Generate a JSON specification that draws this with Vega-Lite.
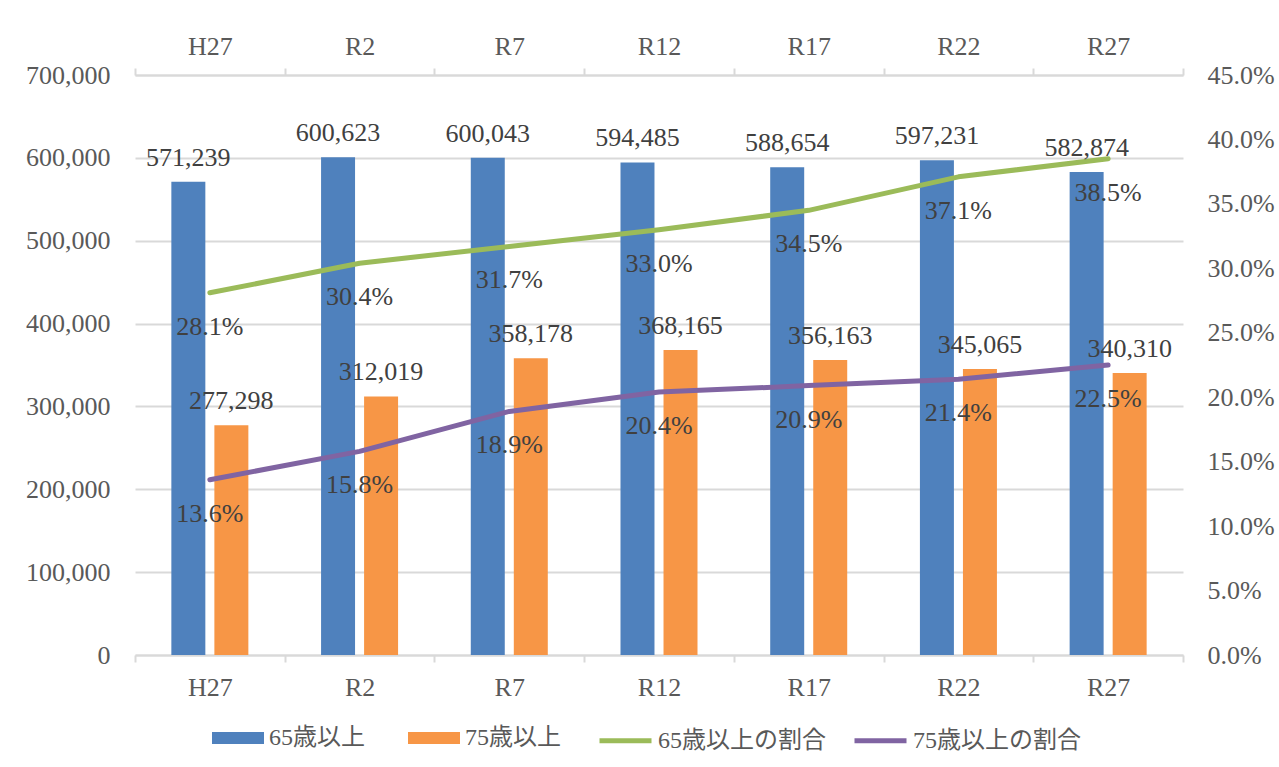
{
  "$schema": "https://vega.github.io/schema/vega-lite/v6.json",
  "width": 1048,
  "height": 580,
  "autosize": {"type": "none"},
  "padding": {"left": 135, "top": 75, "right": 96, "bottom": 112},
  "background": "white",
  "config": {
    "view": {"stroke": null},
    "font": "Liberation Serif, Noto Sans CJK JP",
    "axis": {"labelFont": "Liberation Serif, Noto Sans CJK JP", "labelFontSize": 26, "labelColor": "#595959"},
    "legend": {"labelFont": "Liberation Serif, Noto Sans CJK JP", "labelFontSize": 24, "labelColor": "#595959", "labelLimit": 400}
  },
  "datasets": {
    "counts": [
      {"year": "H27", "series": "65歳以上", "value": 571239},
      {"year": "H27", "series": "75歳以上", "value": 277298},
      {"year": "R2", "series": "65歳以上", "value": 600623},
      {"year": "R2", "series": "75歳以上", "value": 312019},
      {"year": "R7", "series": "65歳以上", "value": 600043},
      {"year": "R7", "series": "75歳以上", "value": 358178},
      {"year": "R12", "series": "65歳以上", "value": 594485},
      {"year": "R12", "series": "75歳以上", "value": 368165},
      {"year": "R17", "series": "65歳以上", "value": 588654},
      {"year": "R17", "series": "75歳以上", "value": 356163},
      {"year": "R22", "series": "65歳以上", "value": 597231},
      {"year": "R22", "series": "75歳以上", "value": 345065},
      {"year": "R27", "series": "65歳以上", "value": 582874},
      {"year": "R27", "series": "75歳以上", "value": 340310}
    ],
    "ratios": [
      {"year": "H27", "series": "65歳以上の割合", "ratio": 0.281},
      {"year": "R2", "series": "65歳以上の割合", "ratio": 0.304},
      {"year": "R7", "series": "65歳以上の割合", "ratio": 0.317},
      {"year": "R12", "series": "65歳以上の割合", "ratio": 0.330},
      {"year": "R17", "series": "65歳以上の割合", "ratio": 0.345},
      {"year": "R22", "series": "65歳以上の割合", "ratio": 0.371},
      {"year": "R27", "series": "65歳以上の割合", "ratio": 0.385},
      {"year": "H27", "series": "75歳以上の割合", "ratio": 0.136},
      {"year": "R2", "series": "75歳以上の割合", "ratio": 0.158},
      {"year": "R7", "series": "75歳以上の割合", "ratio": 0.189},
      {"year": "R12", "series": "75歳以上の割合", "ratio": 0.204},
      {"year": "R17", "series": "75歳以上の割合", "ratio": 0.209},
      {"year": "R22", "series": "75歳以上の割合", "ratio": 0.214},
      {"year": "R27", "series": "75歳以上の割合", "ratio": 0.225}
    ]
  },
  "layer": [
    {
      "data": {"name": "counts"},
      "mark": {"type": "bar"},
      "encoding": {
        "x": {
          "field": "year", "type": "nominal",
          "sort": ["H27", "R2", "R7", "R12", "R17", "R22", "R27"],
          "scale": {"paddingInner": 0, "paddingOuter": 0},
          "axis": {"orient": "bottom", "title": null, "labelAngle": 0, "tickBand": "extent", "domainColor": "#d9d9d9", "domainWidth": 2, "tickColor": "#d9d9d9", "tickWidth": 2, "tickSize": 7, "labelPadding": 12}
        },
        "xOffset": {
          "field": "series", "type": "nominal", "sort": ["65歳以上", "75歳以上"],
          "scale": {"paddingInner": 0.21, "paddingOuter": 0.845}
        },
        "y": {
          "field": "value", "type": "quantitative",
          "scale": {"domain": [0, 700000], "nice": false},
          "axis": {"orient": "left", "title": null, "values": [0, 100000, 200000, 300000, 400000, 500000, 600000, 700000], "format": ",d", "grid": true, "gridColor": "#d9d9d9", "gridWidth": 2, "domain": false, "ticks": false, "labelPadding": 25}
        },
        "fill": {
          "field": "series", "type": "nominal",
          "scale": {"domain": ["65歳以上", "75歳以上"], "range": ["#4f81bd", "#f79646"]},
          "legend": {"orient": "none", "legendX": 77, "legendY": 637, "direction": "horizontal", "title": null, "symbolType": "M-1,-0.23H1V0.23H-1Z", "symbolSize": 2704, "symbolStrokeWidth": 0, "columnPadding": 43, "labelOffset": 5}
        }
      }
    },
    {
      "data": {"name": "ratios"},
      "mark": {"type": "line", "strokeWidth": 5, "strokeCap": "round", "strokeJoin": "round"},
      "encoding": {
        "x": {
          "field": "year", "type": "nominal",
          "sort": ["H27", "R2", "R7", "R12", "R17", "R22", "R27"],
          "axis": {"orient": "top", "title": null, "labelAngle": 0, "tickBand": "extent", "domainColor": "#d9d9d9", "domainWidth": 2, "tickColor": "#d9d9d9", "tickWidth": 2, "tickSize": 7, "labelPadding": 9}
        },
        "y": {
          "field": "ratio", "type": "quantitative",
          "scale": {"domain": [0, 0.45], "nice": false},
          "axis": {"orient": "right", "title": null, "values": [0, 0.05, 0.1, 0.15, 0.2, 0.25, 0.3, 0.35, 0.4, 0.45], "format": ".1%", "grid": false, "domain": false, "ticks": false, "labelPadding": 24}
        },
        "stroke": {
          "field": "series", "type": "nominal",
          "scale": {"domain": ["65歳以上の割合", "75歳以上の割合"], "range": ["#9bbb59", "#8064a2"]},
          "legend": {"orient": "none", "legendX": 462, "legendY": 637, "direction": "horizontal", "title": null, "symbolType": "stroke", "symbolSize": 2704, "symbolStrokeWidth": 5, "columnPadding": 18, "labelOffset": 4}
        }
      }
    },
    {
      "data": {"name": "counts"},
      "mark": {"type": "text", "baseline": "alphabetic", "dy": -16, "fontSize": 26, "font": "Liberation Serif", "fill": "#404040"},
      "encoding": {
        "x": {"field": "year", "type": "nominal", "sort": ["H27", "R2", "R7", "R12", "R17", "R22", "R27"], "axis": null},
        "xOffset": {"field": "series", "type": "nominal", "sort": ["65歳以上", "75歳以上"]},
        "y": {"field": "value", "type": "quantitative", "scale": {"domain": [0, 700000], "nice": false}, "axis": null},
        "text": {"field": "value", "type": "quantitative", "format": ",d"}
      }
    },
    {
      "data": {"name": "ratios"},
      "mark": {"type": "text", "baseline": "middle", "dy": 34, "fontSize": 26, "font": "Liberation Serif", "fill": "#404040"},
      "encoding": {
        "x": {"field": "year", "type": "nominal", "sort": ["H27", "R2", "R7", "R12", "R17", "R22", "R27"], "axis": null},
        "y": {"field": "ratio", "type": "quantitative", "scale": {"domain": [0, 0.45], "nice": false}, "axis": null},
        "text": {"field": "ratio", "type": "quantitative", "format": ".1%"}
      }
    }
  ],
  "resolve": {"scale": {"y": "independent"}, "axis": {"x": "independent"}}
}
